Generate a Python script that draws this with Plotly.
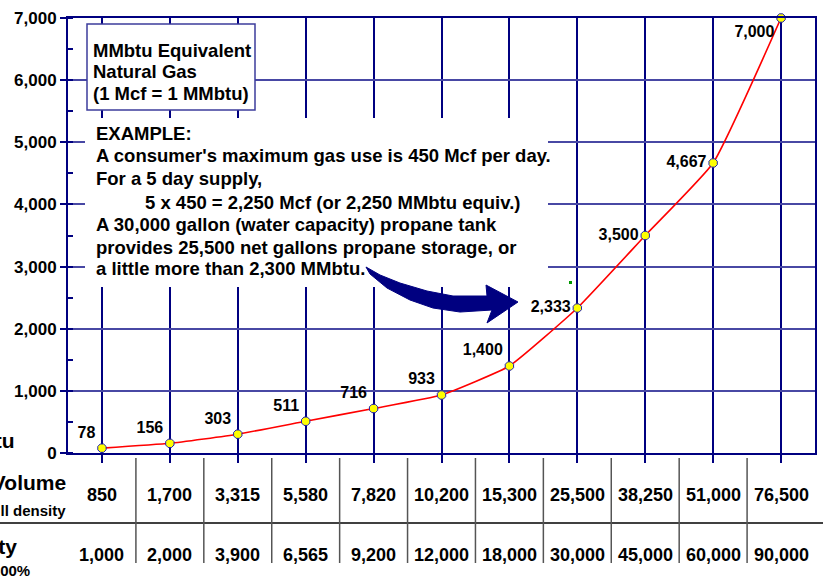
import plotly.graph_objects as go

# ---- data ----
mmbtu = [78, 156, 303, 511, 716, 933, 1400, 2333, 3500, 4667, 7000]
mmbtu_labels = ["78", "156", "303", "511", "716", "933", "1,400", "2,333", "3,500", "4,667", "7,000"]
net_volume = ["850", "1,700", "3,315", "5,580", "7,820", "10,200", "15,300", "25,500", "38,250", "51,000", "76,500"]
capacity = ["1,000", "2,000", "3,900", "6,565", "9,200", "12,000", "18,000", "30,000", "45,000", "60,000", "90,000"]
categories = ["c1", "c2", "c3", "c4", "c5", "c6", "c7", "c8", "c9", "c10", "c11"]
label_pos = ["top left"] * 7 + ["middle left"] * 3 + ["bottom left"]

box1_lines = ["MMbtu Equivalent", "Natural Gas", "(1 Mcf = 1 MMbtu)"]
example_lines = [
    "EXAMPLE:",
    "A consumer's maximum gas use is 450 Mcf per day.",
    "For a 5 day supply,",
    "5 x 450 = 2,250 Mcf (or 2,250 MMbtu equiv.)",
    "A 30,000 gallon (water capacity) propane tank",
    "provides 25,500 net gallons propane storage, or",
    "a little more than 2,300 MMbtu.",
]

W, H = 823, 576
L, R, T, B = 68, 815, 18, 453
FONT = "Arial, Liberation Sans, sans-serif"
NAVY = "#000080"


def px(x):
    return (x - L) / (R - L)


def py(y):
    return (B - y) / (B - T)


def bold(t):
    return "<b>" + t + "</b>"


fig = go.Figure()
fig.add_trace(go.Scatter(
    x=categories, y=mmbtu, mode="lines+markers+text",
    line=dict(color="#FF0000", width=1.6, shape="spline", smoothing=0.4),
    marker=dict(symbol="octagon", size=9, color="#FFFF00", line=dict(color="#2020B0", width=1)),
    text=[bold(t) for t in mmbtu_labels], textposition=label_pos,
    textfont=dict(family=FONT, size=16, color="black"),
    cliponaxis=False, showlegend=False, hoverinfo="skip",
))

shapes = []
annotations = []

# text box 1 (white, bordered)
shapes.append(dict(type="rect", xref="paper", yref="paper", x0=px(87), x1=px(255), y0=py(110), y1=py(24),
                   fillcolor="white", line=dict(color="#3C3C9C", width=1.5), layer="above"))
for i, t in enumerate(box1_lines):
    annotations.append(dict(xref="paper", yref="paper", x=px(91), y=py(50 + 21.6 * i), text=bold(t),
                            showarrow=False, xanchor="left", yanchor="middle",
                            font=dict(family=FONT, size=18.5, color="black")))

# example box (white, no border)
shapes.append(dict(type="rect", xref="paper", yref="paper", x0=px(85), x1=px(548), y0=py(287), y1=py(118),
                   fillcolor="white", line=dict(width=0), layer="above"))
ex_y = [133, 155, 178, 202, 225, 247, 268]
for i, t in enumerate(example_lines):
    annotations.append(dict(xref="paper", yref="paper", x=px(143 if i == 3 else 94), y=py(ex_y[i]), text=bold(t),
                            showarrow=False, xanchor="left", yanchor="middle",
                            font=dict(family=FONT, size=18.5, color="black")))

# brush arrow
arrow_pts = [(366, 267), (380, 275), (400, 283), (427, 291), (453, 296), (487, 296), (486, 285),
             (518, 302), (487, 323), (492, 310), (460, 312), (433, 308), (410, 300), (387, 288), (370, 274)]
path = "M " + " L ".join(f"{px(x):.4f},{py(y):.4f}" for x, y in arrow_pts) + " Z"
shapes.append(dict(type="path", xref="paper", yref="paper", path=path, fillcolor=NAVY,
                   line=dict(color=NAVY, width=1), layer="above"))
# stray green dot
shapes.append(dict(type="rect", xref="paper", yref="paper", x0=px(569), x1=px(572), y0=py(284), y1=py(281),
                   fillcolor="#009900", line=dict(width=0), layer="above"))

# table lines
shapes.append(dict(type="line", xref="paper", yref="paper", x0=px(0), x1=px(W), y0=py(523), y1=py(523),
                   line=dict(color="black", width=1.5)))
for i in range(len(categories) - 1):
    shapes.append(dict(type="line", xref="x", yref="paper", x0=i + 0.5, x1=i + 0.5, y0=py(458), y1=py(563),
                       line=dict(color="#555555", width=1.5)))

# table values
for i, c in enumerate(categories):
    annotations.append(dict(xref="x", yref="paper", x=c, y=py(495), text=bold(net_volume[i]), showarrow=False,
                            xanchor="center", yanchor="middle",
                            font=dict(family=FONT, size=18, color="black")))
    annotations.append(dict(xref="x", yref="paper", x=c, y=py(555), text=bold(capacity[i]), showarrow=False,
                            xanchor="center", yanchor="middle",
                            font=dict(family=FONT, size=18, color="black")))

# row labels (extend past the left edge as in the original)
row_labels = [("MMbtu", 17, 440, 21), ("Propane Volume", 68, 483, 21), ("@ actual fill density", 68, 510, 15),
              ("Tank Capacity", 19, 546, 21), ("@ 100%", 32, 570, 15)]
for t, x, y, s in row_labels:
    annotations.append(dict(xref="paper", yref="paper", x=px(x), y=py(y), text=bold(t), showarrow=False,
                            xanchor="right", yanchor="middle",
                            font=dict(family=FONT, size=s, color="black")))

fig.update_layout(
    width=W, height=H, margin=dict(l=L, r=W - R, t=T, b=H - B, autoexpand=False),
    paper_bgcolor="white", plot_bgcolor="white",
    shapes=shapes, annotations=annotations, showlegend=False,
)
fig.update_xaxes(type="category", range=[-0.5, 10.5], showticklabels=False,
                 showgrid=True, gridcolor=NAVY, gridwidth=2,
                 ticks="outside", ticklen=8, tickwidth=2, tickcolor=NAVY,
                 showline=True, linecolor=NAVY, linewidth=2, mirror=True, zeroline=False)
fig.update_yaxes(range=[0, 7000], dtick=1000, tickformat=",",
                 tickfont=dict(family=FONT, size=17, color="black", weight="bold"),
                 showgrid=True, gridcolor="#4848A4", gridwidth=1.5,
                 ticks="outside", ticklen=6, tickwidth=2, tickcolor=NAVY,
                 minor=dict(dtick=500, ticks="inside", ticklen=5, tickwidth=1.5, tickcolor=NAVY, showgrid=False),
                 showline=True, linecolor=NAVY, linewidth=2, mirror=True, zeroline=False)

fig.write_html("out.html", config={"displayModeBar": False},
               post_script="document.body.style.margin='0';document.body.style.overflow='hidden';")
